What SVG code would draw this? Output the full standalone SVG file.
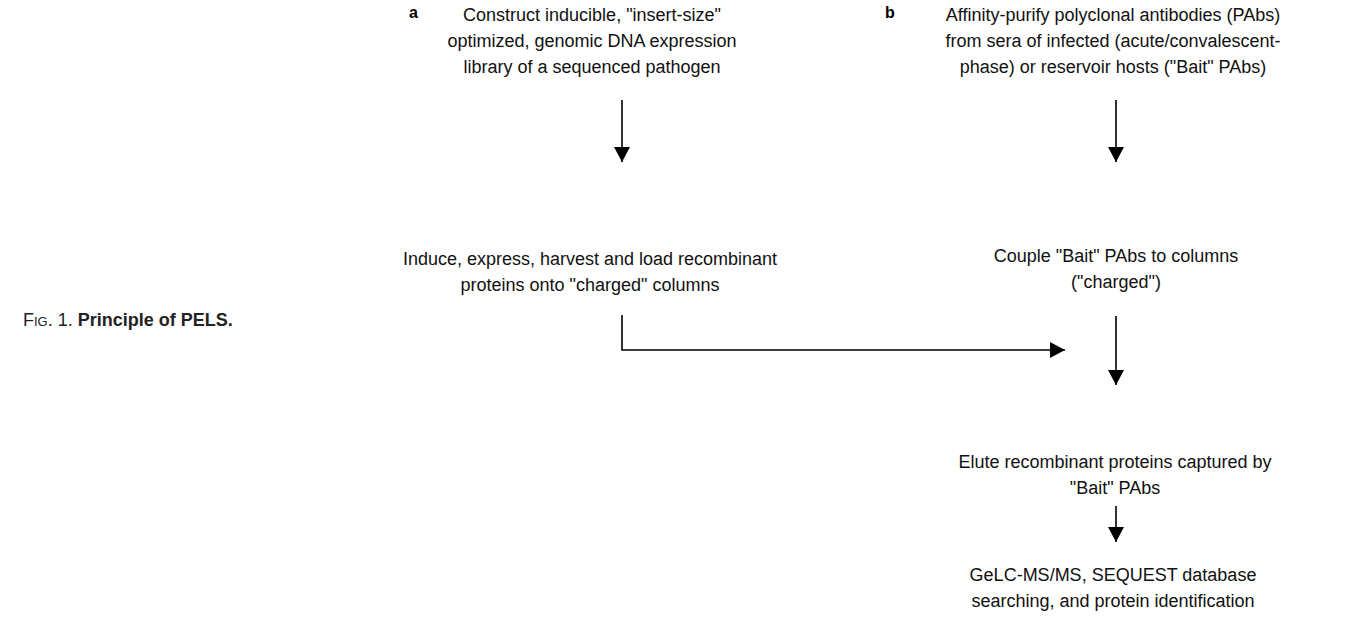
<svg xmlns="http://www.w3.org/2000/svg" width="1345" height="634" viewBox="0 0 1345 634">
<defs>
<style>
.t{font-family:"Liberation Sans",Arial,sans-serif;font-size:18px;fill:#111;text-anchor:middle}
.lbl{font-family:"Liberation Sans",Arial,sans-serif;font-size:16px;font-weight:bold;fill:#000}
.cap{font-family:"Liberation Sans",Arial,sans-serif;font-size:18px;fill:#222}
.c{stroke:#000;stroke-width:1.6;fill:none}
</style>
<marker id="ah2" viewBox="0 0 15 16" refX="15" refY="8" markerWidth="15" markerHeight="16" markerUnits="userSpaceOnUse" orient="auto">
<path d="M0,0 L15,8 L0,16 Z" fill="#000"/>
</marker>
</defs>
<rect width="1345" height="634" fill="#fff"/>
<g id="caption">
<text class="cap" x="23" y="326">F<tspan font-size="13">IG</tspan>. 1. <tspan font-weight="bold">Principle of PELS.</tspan></text>
</g>
<g id="label-a"><text class="lbl" x="409" y="18">a</text></g>
<g id="label-b"><text class="lbl" x="885" y="18">b</text></g>
<g id="node-a1">
<text class="t" x="592" y="21">Construct inducible, "insert-size"</text>
<text class="t" x="592" y="47">optimized, genomic DNA expression</text>
<text class="t" x="592" y="73">library of a sequenced pathogen</text>
</g>
<g id="node-b1">
<text class="t" x="1113" y="21">Affinity-purify polyclonal antibodies (PAbs)</text>
<text class="t" x="1113" y="47">from sera of infected (acute/convalescent-</text>
<text class="t" x="1113" y="73">phase) or reservoir hosts ("Bait" PAbs)</text>
</g>
<g id="node-a2">
<text class="t" x="590" y="265">Induce, express, harvest and load recombinant</text>
<text class="t" x="590" y="291">proteins onto "charged" columns</text>
</g>
<g id="node-b2">
<text class="t" x="1116" y="262">Couple "Bait" PAbs to columns</text>
<text class="t" x="1116" y="288">("charged")</text>
</g>
<g id="node-3">
<text class="t" x="1115" y="468">Elute recombinant proteins captured by</text>
<text class="t" x="1115" y="494">"Bait" PAbs</text>
</g>
<g id="node-4">
<text class="t" x="1113" y="581">GeLC-MS/MS, SEQUEST database</text>
<text class="t" x="1113" y="607">searching, and protein identification</text>
</g>
<g id="connectors">
<line class="c" x1="622" y1="100" x2="622" y2="162" marker-end="url(#ah2)"/>
<line class="c" x1="1116" y1="100" x2="1116" y2="162" marker-end="url(#ah2)"/>
<polyline class="c" points="622,315 622,350 1065,350" marker-end="url(#ah2)"/>
<line class="c" x1="1116" y1="316" x2="1116" y2="385" marker-end="url(#ah2)"/>
<line class="c" x1="1116" y1="506" x2="1116" y2="542" marker-end="url(#ah2)"/>
</g>
</svg>
